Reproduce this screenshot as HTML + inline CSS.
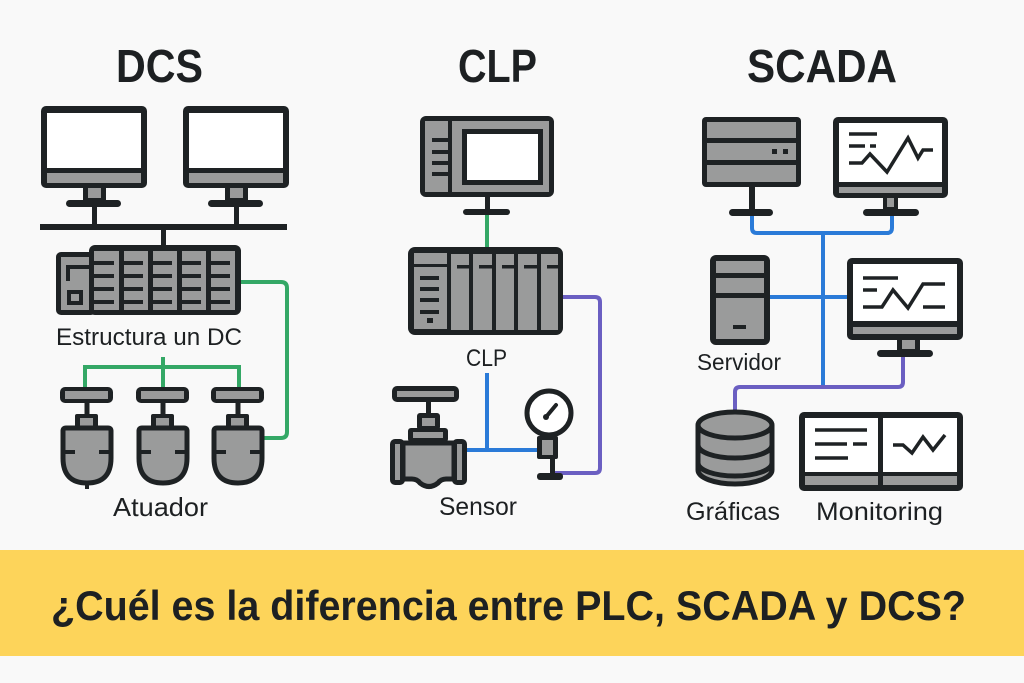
<!DOCTYPE html>
<html><head><meta charset="utf-8"><style>
html,body{margin:0;padding:0;background:#f9f9f9;}
svg{display:block;}
text{font-family:"Liberation Sans",sans-serif;fill:#1d2022;}
</style></head><body>
<svg width="1024" height="683" viewBox="0 0 1024 683" xmlns="http://www.w3.org/2000/svg">
<rect width="1024" height="683" fill="#f9f9f9"/>
<!-- Titles -->
<text x="116" y="82" font-size="46" font-weight="bold" textLength="87" lengthAdjust="spacingAndGlyphs">DCS</text>
<text x="458" y="82" font-size="46" font-weight="bold" textLength="79" lengthAdjust="spacingAndGlyphs">CLP</text>
<text x="747" y="82" font-size="46" font-weight="bold" textLength="150" lengthAdjust="spacingAndGlyphs">SCADA</text>

<!-- ===== DCS ===== -->
<g id="mon">
<rect x="41" y="106" width="106" height="82" rx="5" fill="#1e2224"/>
<rect x="47" y="113" width="94" height="55" fill="#fff"/>
<rect x="47" y="173" width="94" height="10" fill="#9a9b9b"/>
<rect x="83" y="186" width="23" height="15" fill="#1e2224"/>
<rect x="88" y="188" width="13" height="10" fill="#9a9b9b"/>
<rect x="66" y="200" width="55" height="7" rx="3.5" fill="#1e2224"/>
<rect x="92" y="206" width="5" height="20" fill="#1e2224"/>
</g>
<use href="#mon" transform="translate(142,0)"/>
<rect x="40" y="224" width="247" height="6" fill="#1e2224"/>
<rect x="161" y="229" width="5" height="18" fill="#1e2224"/>
<!-- rack -->
<rect x="56" y="252" width="40" height="63" rx="5" fill="#1e2224"/>
<rect x="89" y="245" width="152" height="70" rx="6" fill="#1e2224"/>
<rect x="61" y="257" width="28" height="53" fill="#9a9b9b"/>
<rect x="66" y="265" width="24" height="4" fill="#1e2224"/>
<rect x="66" y="265" width="4" height="16" fill="#1e2224"/>
<rect x="67" y="290" width="16" height="15" fill="#1e2224"/>
<rect x="71" y="294" width="8" height="7" fill="#9a9b9b"/>
<g fill="#9a9b9b">
<rect x="94" y="251" width="25" height="59"/><rect x="124" y="251" width="24" height="59"/>
<rect x="153" y="251" width="24" height="59"/><rect x="182" y="251" width="24" height="59"/>
<rect x="211" y="251" width="24" height="59"/>
</g>
<g fill="#1e2224">
<rect x="94" y="261" width="20" height="4"/><rect x="94" y="274" width="20" height="4"/><rect x="94" y="287" width="20" height="4"/><rect x="94" y="300" width="20" height="4"/>
<rect x="124" y="261" width="19" height="4"/><rect x="124" y="274" width="19" height="4"/><rect x="124" y="287" width="19" height="4"/><rect x="124" y="300" width="19" height="4"/>
<rect x="153" y="261" width="19" height="4"/><rect x="153" y="274" width="19" height="4"/><rect x="153" y="287" width="19" height="4"/><rect x="153" y="300" width="19" height="4"/>
<rect x="182" y="261" width="19" height="4"/><rect x="182" y="274" width="19" height="4"/><rect x="182" y="287" width="19" height="4"/><rect x="182" y="300" width="19" height="4"/>
<rect x="211" y="261" width="19" height="4"/><rect x="211" y="274" width="19" height="4"/><rect x="211" y="287" width="19" height="4"/><rect x="211" y="300" width="19" height="4"/>
</g>
<!-- green -->
<g fill="none" stroke="#34a866" stroke-width="4">
<path d="M241 282 H281 Q287 282 287 288 V432 Q287 438 281 438 H262"/>
<path d="M163 357 V387 M85 389 V367 H239 V389"/>
</g>
<text x="56" y="345" font-size="24" textLength="186" lengthAdjust="spacingAndGlyphs">Estructura un DC</text>
<!-- actuators -->
<g id="act">
<rect x="60" y="387" width="53" height="16" rx="5" fill="#1e2224"/>
<rect x="65" y="391" width="43" height="8" fill="#9a9b9b"/>
<rect x="84.5" y="402" width="5" height="14" fill="#1e2224"/>
<rect x="75" y="414" width="23" height="16" rx="2" fill="#1e2224"/>
<rect x="80" y="418" width="13" height="9" fill="#9a9b9b"/>
<path d="M63 431 Q63 428 66 428 H108 Q111 428 111 431 V458 Q111 483 87 483 Q63 483 63 458 Z" fill="#9a9b9b" stroke="#1e2224" stroke-width="5"/>
<path d="M63 452 H75 M99 452 H111" stroke="#1e2224" stroke-width="4"/>
</g>
<use href="#act" transform="translate(76,0)"/>
<use href="#act" transform="translate(151,0)"/>
<rect x="85" y="484" width="4" height="5" fill="#1e2224"/>
<text x="113" y="516" font-size="26" textLength="95" lengthAdjust="spacingAndGlyphs">Atuador</text>

<!-- ===== CLP ===== -->
<rect x="420" y="116" width="134" height="81" rx="6" fill="#1e2224"/>
<rect x="425" y="121" width="124" height="71" fill="#9a9b9b"/>
<rect x="448" y="121" width="4" height="71" fill="#1e2224"/>
<g fill="#1e2224">
<rect x="432" y="138" width="16" height="4"/><rect x="432" y="150" width="16" height="4"/>
<rect x="432" y="161" width="16" height="4"/><rect x="432" y="172" width="16" height="4"/>
</g>
<rect x="462" y="129" width="81" height="56" fill="#1e2224"/>
<rect x="467" y="134" width="71" height="46" fill="#fff"/>
<rect x="485" y="196" width="5" height="14" fill="#1e2224"/>
<rect x="463" y="209" width="47" height="6" rx="3" fill="#1e2224"/>
<path d="M487 215 V247" stroke="#34a866" stroke-width="4"/>
<rect x="408" y="247" width="155" height="88" rx="7" fill="#1e2224"/>
<rect x="414" y="253" width="33" height="76" fill="#9a9b9b"/>
<rect x="414" y="264" width="33" height="3" fill="#1e2224"/>
<g fill="#1e2224">
<rect x="420" y="276" width="19" height="4"/><rect x="420" y="287" width="19" height="4"/>
<rect x="420" y="298" width="19" height="4"/><rect x="420" y="310" width="19" height="4"/>
<rect x="427" y="318" width="6" height="5"/>
</g>
<g fill="#9a9b9b">
<rect x="451" y="254" width="18" height="76"/><rect x="473" y="254" width="19" height="76"/>
<rect x="496" y="254" width="18" height="76"/><rect x="518" y="254" width="19" height="76"/>
<rect x="541" y="254" width="17" height="76"/>
</g>
<g fill="#1e2224">
<rect x="457" y="265" width="12" height="3.5"/><rect x="479" y="265" width="13" height="3.5"/>
<rect x="502" y="265" width="12" height="3.5"/><rect x="524" y="265" width="13" height="3.5"/>
<rect x="547" y="265" width="11" height="3.5"/>
</g>
<path d="M563 297 H595 Q600 297 600 302 V468 Q600 473 595 473 H553" fill="none" stroke="#6b5fc2" stroke-width="4"/>
<text x="466" y="366" font-size="24" textLength="41" lengthAdjust="spacingAndGlyphs">CLP</text>
<path d="M487 373 V450 M467 450 H538" fill="none" stroke="#2b7bd8" stroke-width="4"/>
<!-- valve -->
<rect x="392" y="386" width="67" height="16" rx="5" fill="#1e2224"/>
<rect x="397" y="391" width="57" height="6" fill="#9a9b9b"/>
<rect x="426" y="401" width="5" height="14" fill="#1e2224"/>
<rect x="417" y="413" width="23" height="17" rx="3" fill="#1e2224"/>
<rect x="422" y="418" width="13" height="8" fill="#9a9b9b"/>
<rect x="408" y="428" width="40" height="14" rx="3" fill="#1e2224"/>
<rect x="413" y="432" width="30" height="6" fill="#9a9b9b"/>
<path d="M403 443 H454 V479 H446 Q441 479 438 483 Q429 490 420 483 Q417 479 412 479 H403 Z" fill="#9a9b9b" stroke="#1e2224" stroke-width="5" stroke-linejoin="round"/>
<rect x="390" y="439" width="15" height="46" rx="5" fill="#1e2224"/>
<rect x="395" y="444" width="5" height="36" fill="#9a9b9b"/>
<rect x="452" y="439" width="15" height="46" rx="5" fill="#1e2224"/>
<rect x="457" y="444" width="5" height="36" fill="#9a9b9b"/>
<!-- gauge -->
<circle cx="549" cy="413" r="22" fill="#fff" stroke="#1e2224" stroke-width="5"/>
<path d="M546 417 L556 405" stroke="#1e2224" stroke-width="4" stroke-linecap="round"/>
<circle cx="546" cy="417" r="3" fill="#1e2224"/>
<rect x="537" y="436" width="21" height="23" rx="2" fill="#1e2224"/>
<rect x="542" y="440" width="11" height="15" fill="#9a9b9b"/>
<rect x="550" y="458" width="5" height="17" fill="#1e2224"/>
<rect x="537" y="473" width="26" height="7" rx="3" fill="#1e2224"/>
<text x="439" y="515" font-size="25" textLength="78" lengthAdjust="spacingAndGlyphs">Sensor</text>

<!-- ===== SCADA ===== -->
<path d="M752 216 V228 Q752 233 757 233 H887 Q892 233 892 228 V216 M823 233 V388 M770 297 H847" fill="none" stroke="#2b7bd8" stroke-width="4"/>
<path d="M903 357 V382 Q903 387 898 387 H740 Q735 387 735 392 V412" fill="none" stroke="#6b5fc2" stroke-width="4"/>
<!-- server rack -->
<rect x="702" y="117" width="99" height="70" rx="4" fill="#1e2224"/>
<g fill="#9a9b9b">
<rect x="707" y="122" width="89" height="16"/><rect x="707" y="143" width="89" height="17"/><rect x="707" y="165" width="89" height="17"/>
</g>
<rect x="772" y="149" width="5" height="5" fill="#1e2224"/>
<rect x="783" y="149" width="5" height="5" fill="#1e2224"/>
<rect x="749" y="186" width="6" height="25" fill="#1e2224"/>
<rect x="729" y="209" width="44" height="7" rx="3.5" fill="#1e2224"/>
<!-- monitor 1 -->
<rect x="833" y="117" width="115" height="81" rx="5" fill="#1e2224"/>
<rect x="839" y="123" width="103" height="59" fill="#fff"/>
<rect x="839" y="187" width="103" height="6" fill="#9a9b9b"/>
<rect x="883" y="196" width="15" height="14" fill="#1e2224"/>
<rect x="887" y="198" width="7" height="9" fill="#9a9b9b"/>
<rect x="863" y="209" width="56" height="7" rx="3.5" fill="#1e2224"/>
<g fill="none" stroke="#1e2224" stroke-width="3.5">
<path d="M849 134 H877 M849 146 H865 M870 146 H876"/>
<path d="M849 163 H862 L870 154 L887 172 L908 138 L918 158 L923 150 H933"/>
</g>
<!-- server tower -->
<rect x="710" y="255" width="60" height="90" rx="6" fill="#1e2224"/>
<g fill="#9a9b9b">
<rect x="716" y="261" width="48" height="12"/><rect x="716" y="278" width="48" height="15"/><rect x="716" y="298" width="48" height="41"/>
</g>
<rect x="733" y="325" width="13" height="4" fill="#1e2224"/>
<text x="697" y="370" font-size="23" textLength="84" lengthAdjust="spacingAndGlyphs">Servidor</text>
<!-- monitor 2 -->
<rect x="847" y="258" width="116" height="82" rx="5" fill="#1e2224"/>
<rect x="853" y="264" width="104" height="57" fill="#fff"/>
<rect x="853" y="327" width="104" height="7" fill="#9a9b9b"/>
<rect x="897" y="338" width="23" height="14" fill="#1e2224"/>
<rect x="902" y="340" width="13" height="9" fill="#9a9b9b"/>
<rect x="877" y="350" width="56" height="7" rx="3.5" fill="#1e2224"/>
<g fill="none" stroke="#1e2224" stroke-width="3.5">
<path d="M863 278 H898 M863 290 H877 M923 307 H945"/>
<path d="M863 307 H882 L893 290 L908 308 L923 284 H945"/>
</g>
<!-- database -->
<path d="M698 425 V470 A37 14 0 0 0 772 470 V425" fill="#9a9b9b" stroke="#1e2224" stroke-width="5"/>
<ellipse cx="735" cy="425" rx="37" ry="13" fill="#9a9b9b" stroke="#1e2224" stroke-width="5"/>
<path d="M698 445 A37 13 0 0 0 772 445 M698 463 A37 13 0 0 0 772 463" fill="none" stroke="#1e2224" stroke-width="5"/>
<!-- monitoring panel -->
<rect x="799" y="412" width="164" height="79" rx="5" fill="#1e2224"/>
<rect x="805" y="418" width="73" height="54" fill="#fff"/>
<rect x="883" y="418" width="74" height="54" fill="#fff"/>
<rect x="805" y="476" width="73" height="9" fill="#9a9b9b"/>
<rect x="883" y="476" width="74" height="9" fill="#9a9b9b"/>
<g fill="none" stroke="#1e2224" stroke-width="3.5">
<path d="M815 430 H867 M815 444 H847 M853 444 H867 M815 458 H848"/>
<path d="M893 445 H903 L912 453 L923 437 L933 450 L945 435"/>
</g>
<text x="686" y="520" font-size="25" textLength="94" lengthAdjust="spacingAndGlyphs">Gráficas</text>
<text x="816" y="520" font-size="25" textLength="127" lengthAdjust="spacingAndGlyphs">Monitoring</text>

<!-- banner -->
<rect x="0" y="550" width="1024" height="106" fill="#fdd45a"/>
<text x="51" y="620" font-size="42" font-weight="bold" textLength="915" lengthAdjust="spacingAndGlyphs">¿Cuél es la diferencia entre PLC, SCADA y DCS?</text>
</svg>
</body></html>
